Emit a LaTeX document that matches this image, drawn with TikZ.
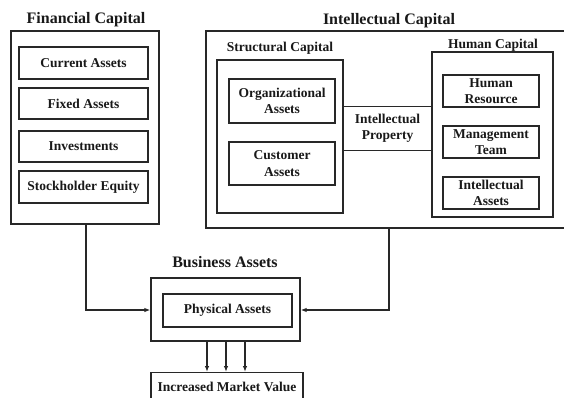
\documentclass[tikz,border=0pt]{standalone}
\usepackage{fontspec}
\setmainfont{Liberation Serif}
\usetikzlibrary{arrows.meta, positioning}
\definecolor{linedark}{RGB}{40, 40, 40}
\definecolor{textdark}{RGB}{25, 25, 25}

\begin{document}
\begin{tikzpicture}[
    x=1pt, y=-1pt,
    outerbox/.style={rectangle, draw=linedark, line width=1.3pt, inner sep=0pt},
    itembox/.style={rectangle, draw=linedark, line width=1.3pt, inner sep=0pt, align=center, font=\fontsize{13.5}{16.5}\selectfont\bfseries, text=textdark},
    title/.style={font=\fontsize{16}{18}\selectfont\bfseries, text=textdark, inner sep=0pt},
    subtitle/.style={font=\fontsize{13.5}{15}\selectfont\bfseries, text=textdark, inner sep=0pt},
    arrow/.style={-{Latex[length=6pt, width=4.5pt]}, line width=1.2pt, color=linedark},
    link/.style={line width=1.2pt, color=linedark},
]
\clip (0,0) rectangle (564,398);
\fill[white] (0,0) rectangle (564,398);

% Financial capital
\node[title] (fintitle) at (86, 20) {Financial Capital};
\node[outerbox, minimum width=148pt, minimum height=193pt] (fin) at (85, 127.5) {};
\node[itembox, minimum width=129pt, minimum height=32pt] (cur) at (83.5, 63) {Current Assets};
\node[itembox, minimum width=129pt, minimum height=31pt] (fix) at (83.5, 103.5) {Fixed Assets};
\node[itembox, minimum width=129pt, minimum height=31pt] (inv) at (83.5, 146.5) {Investments};
\node[itembox, minimum width=129pt, minimum height=32pt] (stock) at (83.5, 187) {Stockholder Equity};

% Intellectual capital
\node[title] (inttitle) at (389, 21) {Intellectual Capital};
\node[outerbox, minimum width=380pt, minimum height=197pt] (intel) at (396, 129.5) {};

% Structural capital
\node[subtitle] (structitle) at (280, 48) {Structural Capital};
\node[outerbox, minimum width=126pt, minimum height=153pt] (struc) at (280, 136.5) {};
\node[itembox, minimum width=106pt, minimum height=44pt] (org) at (282, 101) {Organizational\\Assets};
\node[itembox, minimum width=106pt, minimum height=43pt] (cust) at (282, 163.5) {Customer\\Assets};

% Human capital
\node[subtitle] (humtitle) at (493, 45.5) {Human Capital};
\node[outerbox, minimum width=121pt, minimum height=165pt] (hum) at (492.5, 134.5) {};
\node[itembox, minimum width=96pt, minimum height=32pt] (hres) at (491, 91) {Human\\Resource};
\node[itembox, minimum width=96pt, minimum height=32pt] (mgmt) at (491, 142) {Management\\Team};
\node[itembox, minimum width=96pt, minimum height=32pt] (iass) at (491, 193) {Intellectual\\Assets};

% Intellectual property
\node[itembox, draw=none, minimum width=89pt, minimum height=43pt] (iprop) at (387.5, 128.5) {Intellectual\\Property};
\draw[link] (iprop.north west) -- (iprop.north east);
\draw[link] (iprop.south west) -- (iprop.south east);

% Business assets
\node[title] (bustitle) at (225, 262) {Business Assets};
\node[outerbox, minimum width=149pt, minimum height=63pt] (bus) at (225.5, 309.5) {};
\node[itembox, minimum width=129pt, minimum height=33pt] (phys) at (227.5, 310.5) {Physical Assets};
\node[itembox, minimum width=152pt, minimum height=40pt, anchor=north] (market) at (227, 372) {};
\node[itembox, draw=none] (mtext) at (227, 387) {Increased Market Value};

\coordinate (finbend) at (86, 310);
\coordinate (intbend) at (389, 310);
\draw[arrow] (fin.south -| finbend) -- (finbend) -- (bus.west |- finbend);
\draw[arrow] (intel.south -| intbend) -- (intbend) -- (bus.east |- intbend);
\foreach \xx in {207, 226, 245} {
    \draw[arrow] (bus.south -| \xx, 0) -- (market.north -| \xx, 0);
}

\end{tikzpicture}
\end{document}
